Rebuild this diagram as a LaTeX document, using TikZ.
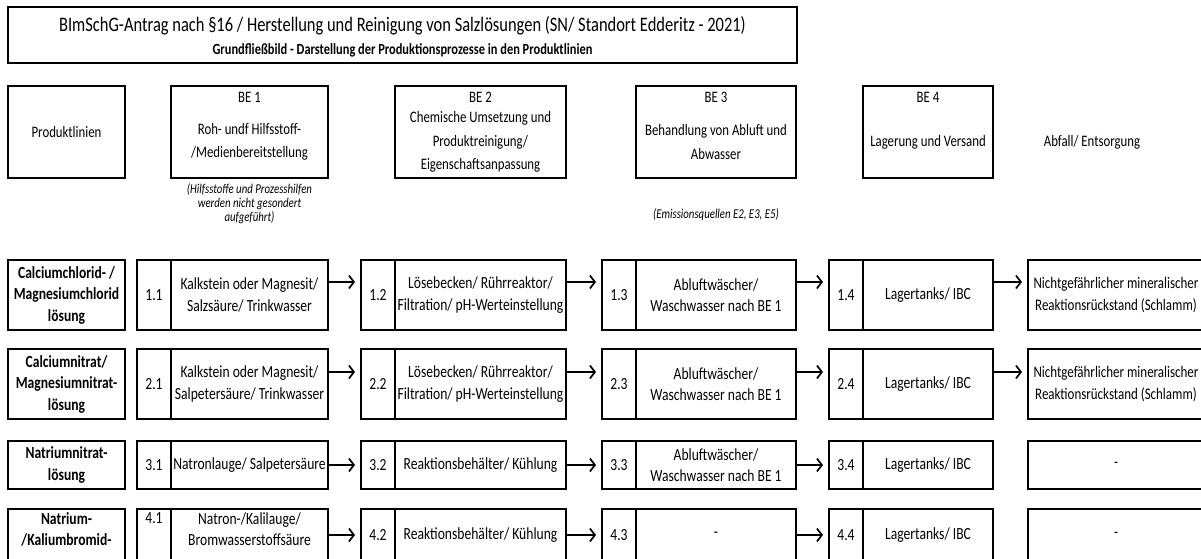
\documentclass[tikz,border=0pt]{standalone}
\usepackage{fontspec}
\setmainfont{Carlito}[FakeStretch=0.8]
\usetikzlibrary{arrows.meta, positioning}

\begin{document}
\begin{tikzpicture}[
  x=1pt, y=-1pt,
  font=\fontsize{17}{21.5}\selectfont,
  arrow/.style={-{Straight Barb[length=5pt, width=13pt]}, line width=1.7pt, shorten >=6pt},
  cell/.style={draw, line width=1.2pt, outer sep=0pt, inner sep=1pt, align=center},
  num/.style={cell, minimum width=34},
  prod/.style={cell, font=\fontsize{17}{21.5}\selectfont\bfseries, minimum width=117},
  hbox/.style={draw, line width=1.2pt, outer sep=0pt, minimum height=92},
  hlabel/.style={font=\fontsize{16}{23.5}\selectfont, align=center},
  note/.style={font=\fontsize{13.5}{14}\selectfont\itshape, align=center},
  maintitle/.style={font=\fontsize{20.6}{24}\selectfont},
  subtitle/.style={font=\fontsize{15.5}{18}\selectfont\bfseries},
  rowa/.style={minimum height=70},
  rowc/.style={minimum height=48},
  rowd/.style={minimum height=68},
  rowdd/.style={minimum height=52},
  colA/.style={minimum width=157},
  colB/.style={minimum width=171},
  colC/.style={minimum width=160},
  colD/.style={minimum width=130},
  colE/.style={minimum width=176, font=\fontsize{16.2}{21.5}\selectfont}
]
\clip (0,0) rectangle (1201,559);

% =========================
% Title
% =========================
\node[draw, line width=1.4pt, minimum width=789, minimum height=56] (titlebox) at (402.5,35) {};
\node[maintitle] (ttext) at ([yshift=9]titlebox.center)
{BImSchG-Antrag nach §16 / Herstellung und Reinigung von Salzlösungen (SN/ Standort Edderitz - 2021)};
\node[subtitle] (tsub) at ([yshift=-15]titlebox.center)
{Grundfließbild - Darstellung der Produktionsprozesse in den Produktlinien};

% =========================
% Column headers
% =========================
\node[hbox, hlabel, minimum width=117] (hprod) at (66.5,132) {Produktlinien};

\node[hbox, colA] (be1) at (249.5,132) {};
\node[hlabel, below=3pt of be1.north] (be1t) {BE 1};
\node[hlabel] (be1d) at ([yshift=-10]be1.center) {Roh- undf Hilfsstoff-\\/Medienbereitstellung};
\node[note, below=2pt of be1] (be1n) {(Hilfsstoffe und Prozesshilfen\\werden nicht gesondert\\aufgeführt)};

\node[hbox, colB] (be2) at (480.5,132) {};
\node[hlabel, below=3pt of be2.north] (be2t) {BE 2};
\node[hlabel] (be2d) at ([yshift=-10]be2.center) {Chemische Umsetzung und\\Produktreinigung/\\Eigenschaftsanpassung};

\node[hbox, colC] (be3) at (716,132) {};
\node[hlabel, below=3pt of be3.north] (be3t) {BE 3};
\node[hlabel] (be3d) at ([yshift=-10]be3.center) {Behandlung von Abluft und\\Abwasser};
\node[note, below=27pt of be3] (be3n) {(Emissionsquellen E2, E3, E5)};

\node[hbox, colD] (be4) at (928,132) {};
\node[hlabel, below=3pt of be4.north] (be4t) {BE 4};
\node[hlabel] (be4d) at ([yshift=-10]be4.center) {Lagerung und Versand};

\node[hlabel] (habfall) at (1092,142) {Abfall/ Entsorgung};

% =========================
% Row 1
% =========================
\node[prod, rowa, anchor=north west] (p1) at (8,260) {Calciumchlorid- /\\Magnesiumchlorid\\lösung};
\node[num, rowa, anchor=north west] (n11) at (137,260) {1.1};
\node[cell, rowa, colA, right=0pt of n11] (s11) {Kalkstein oder Magnesit/\\Salzsäure/ Trinkwasser};
\node[num, rowa, right=33pt of s11] (n12) {1.2};
\node[cell, rowa, colB, right=0pt of n12] (s12) {Lösebecken/ Rührreaktor/\\Filtration/ pH-Werteinstellung};
\node[num, rowa, right=36pt of s12] (n13) {1.3};
\node[cell, rowa, colC, right=0pt of n13] (s13) {Abluftwäscher/\\Waschwasser nach BE 1};
\node[num, rowa, right=33pt of s13] (n14) {1.4};
\node[cell, rowa, colD, right=0pt of n14] (s14) {Lagertanks/ IBC};
\node[cell, rowa, colE, right=35pt of s14] (w1) {Nichtgefährlicher mineralischer\\Reaktionsrückstand (Schlamm)};

\draw[arrow] ([yshift=13]s11.east) -- ([yshift=13]n12.west);
\draw[arrow] ([yshift=13]s12.east) -- ([yshift=13]n13.west);
\draw[arrow] ([yshift=13]s13.east) -- ([yshift=13]n14.west);
\draw[arrow] ([yshift=13]s14.east) -- ([yshift=13]w1.west);

% =========================
% Row 2
% =========================
\node[prod, rowa, anchor=north west] (p2) at (8,349) {Calciumnitrat/\\Magnesiumnitrat-\\lösung};
\node[num, rowa, anchor=north west] (n21) at (137,349) {2.1};
\node[cell, rowa, colA, right=0pt of n21] (s21) {Kalkstein oder Magnesit/\\Salpetersäure/ Trinkwasser};
\node[num, rowa, right=33pt of s21] (n22) {2.2};
\node[cell, rowa, colB, right=0pt of n22] (s22) {Lösebecken/ Rührreaktor/\\Filtration/ pH-Werteinstellung};
\node[num, rowa, right=36pt of s22] (n23) {2.3};
\node[cell, rowa, colC, right=0pt of n23] (s23) {Abluftwäscher/\\Waschwasser nach BE 1};
\node[num, rowa, right=33pt of s23] (n24) {2.4};
\node[cell, rowa, colD, right=0pt of n24] (s24) {Lagertanks/ IBC};
\node[cell, rowa, colE, right=35pt of s24] (w2) {Nichtgefährlicher mineralischer\\Reaktionsrückstand (Schlamm)};

\draw[arrow] ([yshift=12]s21.east) -- ([yshift=12]n22.west);
\draw[arrow] ([yshift=12]s22.east) -- ([yshift=12]n23.west);
\draw[arrow] ([yshift=12]s23.east) -- ([yshift=12]n24.west);
\draw[arrow] ([yshift=12]s24.east) -- ([yshift=12]w2.west);

% =========================
% Row 3
% =========================
\node[prod, rowc, anchor=north west] (p3) at (8,441) {Natriumnitrat-\\lösung};
\node[num, rowc, anchor=north west] (n31) at (137,441) {3.1};
\node[cell, rowc, colA, right=0pt of n31] (s31) {Natronlauge/ Salpetersäure};
\node[num, rowc, right=33pt of s31] (n32) {3.2};
\node[cell, rowc, colB, right=0pt of n32] (s32) {Reaktionsbehälter/ Kühlung};
\node[num, rowc, right=36pt of s32] (n33) {3.3};
\node[cell, rowc, colC, right=0pt of n33] (s33) {Abluftwäscher/\\Waschwasser nach BE 1};
\node[num, rowc, right=33pt of s33] (n34) {3.4};
\node[cell, rowc, colD, right=0pt of n34] (s34) {Lagertanks/ IBC};
\node[cell, rowc, colE, right=35pt of s34] (w3) {-};

\draw[arrow] (s31.east) -- (n32.west);
\draw[arrow] (s32.east) -- (n33.west);
\draw[arrow] (s33.east) -- (n34.west);

% =========================
% Row 4 (cut off at the bottom)
% =========================
\node[prod, rowd, anchor=north west] (p4) at (8,509) {Natrium-\\/Kaliumbromid-\\\strut};
\node[num, rowd, anchor=north west] (n41) at (137,509) {4.1\\\strut\\\strut};
\node[cell, rowd, colA, right=0pt of n41] (s41) {Natron-/Kalilauge/\\Bromwasserstoffsäure\\\strut};
\node[num, rowdd, anchor=north west] (n42) at ([xshift=33]s41.north east) {4.2};
\node[cell, rowdd, colB, right=0pt of n42] (s42) {Reaktionsbehälter/ Kühlung};
\node[num, rowdd, right=36pt of s42] (n43) {4.3};
\node[cell, rowdd, colC, right=0pt of n43] (s43) {-};
\node[num, rowdd, right=33pt of s43] (n44) {4.4};
\node[cell, rowdd, colD, right=0pt of n44] (s44) {Lagertanks/ IBC};
\node[cell, rowdd, colE, right=35pt of s44] (w4) {-};

\draw[arrow] ([yshift=8]s41.east) -- (n42.west);
\draw[arrow] (s42.east) -- (n43.west);
\draw[arrow] (s43.east) -- (n44.west);

\end{tikzpicture}
\end{document}
